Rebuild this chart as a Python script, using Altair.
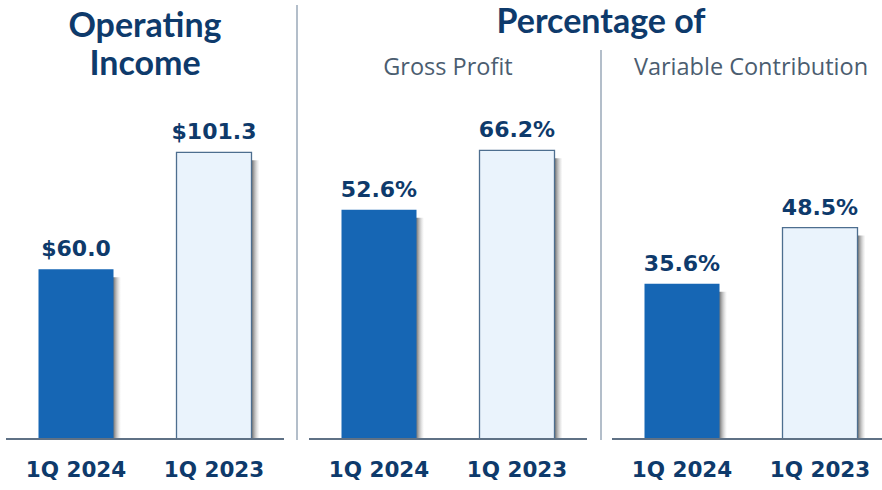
import altair as alt
import pandas as pd

# ---- data ----
panels = ["Operating Income", "Gross Profit", "Variable Contribution"]
quarters = ["1Q 2024", "1Q 2023"]
operating_income = [60.0, 101.3]
gross_profit_pct = [52.6, 66.2]
variable_contrib_pct = [35.6, 48.5]

NAVY = "#0e3a6b"
BLUE = "#1666b4"
LIGHT = "#eaf3fc"
TFONT = "Lato"
NFONT = "DejaVu Sans"
SFONT = "Open Sans"

rows = []
for q, v in zip(quarters, operating_income):
    rows.append({"panel": panels[0], "quarter": q, "value": v, "label": f"${v:.1f}"})
for q, v in zip(quarters, gross_profit_pct):
    rows.append({"panel": panels[1], "quarter": q, "value": v, "label": f"{v:.1f}%"})
for q, v in zip(quarters, variable_contrib_pct):
    rows.append({"panel": panels[2], "quarter": q, "value": v, "label": f"{v:.1f}%"})
df = pd.DataFrame(rows)

X = alt.X("panel:N", scale=alt.Scale(domain=panels, range=[6, 890], paddingInner=0.0825, paddingOuter=0),
          axis=None)
XO = alt.XOffset("quarter:N", scale=alt.Scale(domain=quarters, paddingInner=0.4565, paddingOuter=0.2355))
# slightly wider bands that start at the same left edge as the bars -> right-side shadow
XO_SH = alt.XOffset("quarter:N", scale=alt.Scale(domain=quarters, paddingInner=0.40,
                                                  paddingOuter=0.2035, align=0.566))
color = alt.Color("quarter:N", scale=alt.Scale(domain=quarters, range=[BLUE, LIGHT]), legend=None)

shadow_fill = alt.Gradient(
    gradient="linear", x1=0, x2=1, y1=0, y2=0,
    stops=[
        alt.GradientStop(offset=0, color="rgba(120,120,120,0)"),
        alt.GradientStop(offset=0.9, color="rgba(120,120,120,0)"),
        alt.GradientStop(offset=0.91, color="rgba(85,85,85,0.8)"),
        alt.GradientStop(offset=1, color="rgba(180,180,180,0)"),
    ],
)


def bars(sub, ymax):
    Y = alt.Y("value:Q", scale=alt.Scale(domain=[0, ymax], nice=False, zero=True), axis=None)
    shadow = alt.Chart(sub).mark_bar(yOffset=8, y2Offset=0, fill=shadow_fill).encode(
        x=X, xOffset=XO_SH, y=Y, y2=alt.datum(0))
    base = alt.Chart(sub).encode(x=X, xOffset=XO, y=Y)
    bar = base.mark_bar(stroke="#4d6e8f", strokeWidth=1.3).encode(
        color=color,
        strokeOpacity=alt.condition(alt.datum.quarter == quarters[1], alt.value(1), alt.value(0)),
    )
    txt = base.mark_text(dy=-13, baseline="alphabetic", fontSize=22, fontWeight="bold",
                         font=NFONT, color=NAVY).encode(text="label:N")
    cat = alt.Chart(sub).mark_text(baseline="alphabetic", fontSize=21.5, fontWeight="bold",
                                   font=NFONT, color=NAVY).encode(
        x=X, xOffset=XO, y=alt.value(477), text="quarter:N")
    return alt.layer(shadow, alt.layer(bar, txt, cat)).resolve_scale(xOffset="independent")


layer_a = bars(df[df.panel == panels[0]], 439 / 2.83)
layer_b = bars(df[df.panel != panels[0]], 439 / 4.36)

# baselines per panel
panel_df = pd.DataFrame({"panel": panels})
baseline = alt.Chart(panel_df).mark_rect(color="#5f7185").encode(
    x=X, y=alt.value(438), y2=alt.value(440))

# titles
t1 = alt.Chart(pd.DataFrame({"panel": [panels[0]], "t": ["Operating"]})).mark_text(
    baseline="alphabetic", fontSize=34, fontWeight="bold", font=TFONT, color=NAVY).encode(
    x=X, y=alt.value(37), text="t:N")
t2 = alt.Chart(pd.DataFrame({"panel": [panels[0]], "t": ["Income"]})).mark_text(
    baseline="alphabetic", fontSize=34, fontWeight="bold", font=TFONT, color=NAVY).encode(
    x=X, y=alt.value(75), text="t:N")
t3 = alt.Chart(pd.DataFrame({"t": ["Percentage of"]})).mark_text(
    baseline="alphabetic", fontSize=34, fontWeight="bold", font=TFONT, color=NAVY).encode(
    x=alt.value(601), y=alt.value(33), text="t:N")
sub = alt.Chart(pd.DataFrame({"panel": panels[1:], "t": panels[1:]})).mark_text(
    baseline="alphabetic", fontSize=23.5, font=SFONT, color="#4b5d70").encode(
    x=X, y=alt.value(75), text="t:N")

div1 = alt.Chart(pd.DataFrame({"a": [0]})).mark_rule(color="#9aa8b8", strokeWidth=1.5).encode(
    x=alt.value(297), y=alt.value(5), y2=alt.value(440))
div2 = alt.Chart(pd.DataFrame({"a": [0]})).mark_rule(color="#9aa8b8", strokeWidth=1.5).encode(
    x=alt.value(601), y=alt.value(50), y2=alt.value(440))

chart = alt.layer(
    div1, div2, layer_a, layer_b, baseline, t1, t2, t3, sub
).resolve_scale(y="independent", xOffset="independent").properties(
    width=882, height=439,
    autosize=alt.AutoSizeParams(type="none"),
    padding={"left": 0, "top": 0, "right": 0, "bottom": 51},
    background="white",
).configure_view(stroke=None)

chart.save("out.html", embed_options={"renderer": "svg", "actions": False})
